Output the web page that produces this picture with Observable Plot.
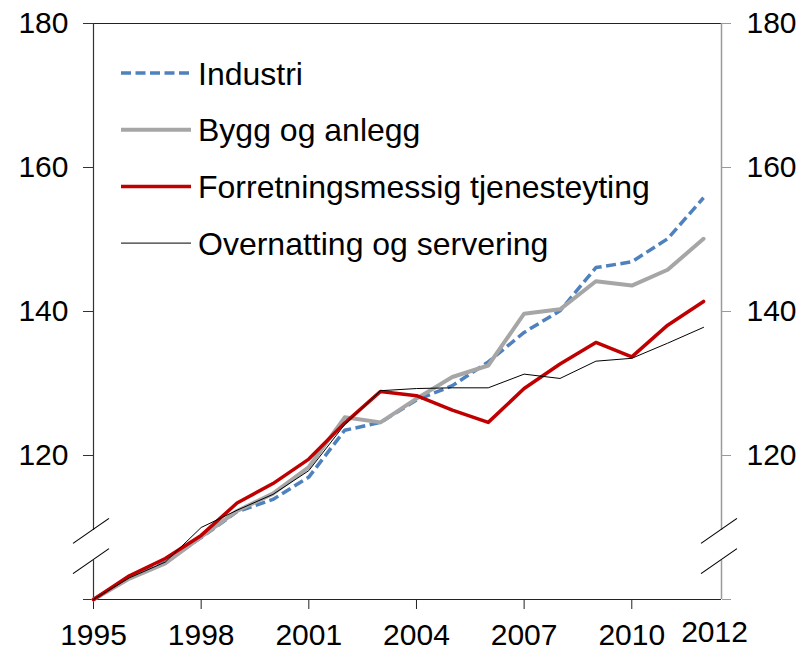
<!DOCTYPE html>
<html>
<head>
<meta charset="utf-8">
<script src="https://cdn.jsdelivr.net/npm/d3@7"></script>
<script src="https://cdn.jsdelivr.net/npm/@observablehq/plot@0.6"></script>
<style>
  html, body { margin: 0; padding: 0; background: #fff; }
  #chart { width: 805px; height: 650px; }
</style>
</head>
<body>
<div id="chart"></div>
<script>
// ---- data ----
const years = [1995, 1996, 1997, 1998, 1999, 2000, 2001, 2002, 2003, 2004, 2005, 2006, 2007, 2008, 2009, 2010, 2011, 2012];
const industri    = [100, 103.0, 105.2, 108.6, 112.2, 113.9, 117.0, 123.5, 124.6, 127.7, 129.7, 133.0, 137.1, 140.1, 146.1, 146.9, 150.1, 155.8];
const bygg        = [100, 102.9, 105.0, 108.7, 112.3, 114.7, 118.4, 125.3, 124.6, 127.9, 130.9, 132.5, 139.7, 140.3, 144.2, 143.6, 145.8, 150.1];
const forretning  = [100, 103.3, 105.7, 108.9, 113.4, 116.1, 119.5, 124.5, 128.9, 128.3, 126.3, 124.6, 129.3, 132.7, 135.7, 133.7, 138.1, 141.4];
const overnatting = [100, 103.0, 105.2, 110.0, 112.4, 114.6, 117.9, 124.3, 129.0, 129.3, 129.4, 129.4, 131.3, 130.7, 133.1, 133.5, 135.6, 137.8];

const seriesNames  = ["Industri", "Bygg og anlegg", "Forretningsmessig tjenesteyting", "Overnatting og servering"];
const seriesValues = [industri, bygg, forretning, overnatting];
const seriesColors = ["#4F81BD", "#A6A6A6", "#C00000", "#000000"];
const seriesWidths = [3.5, 4, 3.5, 1];
const seriesDashes = ["10,4.5", null, null, null];

const xTicks = [1995, 1998, 2001, 2004, 2007, 2010];
const lastYearLabel = [2012];
const yTicks = [100, 120, 140, 160, 180];
const xDomain = [1995, 2012.5];
const yDomain = [100, 180];
const breakValues = [105.4, 109.6];   // axis break (scale interruption)

// ---- chart ----
const font = "Liberation Sans, Arial, Helvetica, sans-serif";
const lineMarks = seriesValues.map((vals, s) =>
  Plot.line(years, {
    x: d => d,
    y: (d, i) => vals[i],
    stroke: seriesColors[s],
    strokeWidth: seriesWidths[s],
    strokeDasharray: seriesDashes[s] ?? undefined,
    strokeLinecap: seriesDashes[s] ? "butt" : "round",
    strokeLinejoin: "round"
  })
);

const chart = Plot.plot({
  width: 805,
  height: 650,
  marginLeft: 93,
  marginRight: 84,
  marginTop: 23,
  marginBottom: 51,
  style: { fontFamily: font, background: "#fff", color: "#000", overflow: "visible" },
  x: { domain: xDomain, axis: null },
  y: { domain: yDomain, axis: null },
  marks: [
    // frame top & bottom
    Plot.ruleY([yDomain[1]], { x1: () => xDomain[0], x2: () => xDomain[1], stroke: "#222", strokeWidth: 1 }),
    Plot.ruleY([yDomain[0]], { x1: () => xDomain[0], x2: () => xDomain[1], stroke: "#222", strokeWidth: 1.2 }),
    // left axis line with break gap
    Plot.ruleX([xDomain[0]], { y1: () => yDomain[0], y2: () => breakValues[0], stroke: "#333", strokeWidth: 1.2 }),
    Plot.ruleX([xDomain[0]], { y1: () => breakValues[1], y2: () => yDomain[1], stroke: "#333", strokeWidth: 1.2 }),
    // right axis line with break gap
    Plot.ruleX([xDomain[1]], { y1: () => yDomain[0], y2: () => breakValues[0], stroke: "#9a9a9a", strokeWidth: 1.5 }),
    Plot.ruleX([xDomain[1]], { y1: () => breakValues[1], y2: () => yDomain[1], stroke: "#9a9a9a", strokeWidth: 1.5 }),
    // axes
    Plot.axisY(yTicks, {
      anchor: "left", tickSize: 10, tickPadding: 15, fontSize: 30, label: null,
      tickFormat: d => (d === 100 ? "" : String(d)), stroke: "#333", fill: "#000"
    }),
    Plot.axisY(yTicks, {
      anchor: "right", tickSize: 9, tickPadding: 16, fontSize: 30, label: null,
      tickFormat: d => (d === 100 ? "" : String(d)), stroke: "#9a9a9a", fill: "#000"
    }),
    Plot.axisX(xTicks, {
      anchor: "bottom", tickSize: 10, tickPadding: 14, fontSize: 30, label: null,
      tickFormat: d => String(d), stroke: "#222", fill: "#000"
    }),
    Plot.text(lastYearLabel, {
      x: d => d, y: () => yDomain[0], text: d => String(d),
      dx: 11, dy: 21, lineAnchor: "top", fontSize: 30, fill: "#000"
    }),
    ...lineMarks
  ]
});

document.getElementById("chart").appendChild(chart);

// ---- axis break slashes & legend (decorations in pixel space via the plot's scales) ----
const sx = chart.scale("x"), sy = chart.scale("y");
const svg = d3.select(chart);
const g = svg.append("g").attr("stroke", "#000").attr("stroke-width", 1.2).attr("fill", "none");
[xDomain[0], xDomain[1]].forEach(xv => {
  const px = sx.apply(xv);
  breakValues.forEach(bv => {
    const py = sy.apply(bv);
    g.append("line")
      .attr("x1", px - 20).attr("y1", py + 13.5)
      .attr("x2", px + 16).attr("y2", py - 11.5);
  });
});

const legend = svg.append("g")
  .attr("font-family", font)
  .attr("font-size", 32)
  .attr("text-anchor", "start");
const legendX0 = sx.apply(xDomain[0]) + 28;
const legendRow0 = 73, legendStep = 56.7;
seriesNames.forEach((name, s) => {
  const y = legendRow0 + s * legendStep;
  legend.append("line")
    .attr("x1", legendX0).attr("x2", legendX0 + 70)
    .attr("y1", y).attr("y2", y)
    .attr("stroke", seriesColors[s])
    .attr("stroke-width", seriesWidths[s])
    .attr("stroke-dasharray", seriesDashes[s])
    .attr("stroke-linecap", "butt");
  legend.append("text")
    .attr("x", legendX0 + 77).attr("y", y)
    .attr("dy", "0.36em")
    .attr("text-anchor", "start")
    .attr("fill", "#000")
    .text(name);
});
</script>
</body>
</html>
